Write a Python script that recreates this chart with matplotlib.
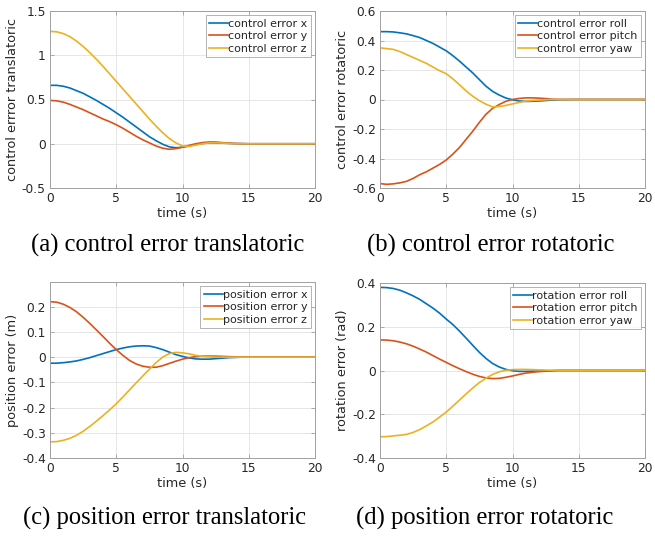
import numpy as np
import matplotlib
matplotlib.use("Agg")
import matplotlib.pyplot as plt

# ---------------- data ----------------
time = [0, 0.5, 1, 1.5, 2, 2.5, 3, 3.5, 4, 4.5, 5, 5.5, 6, 6.5, 7, 7.5, 8, 8.5, 9, 9.5,
        10, 10.5, 11, 11.5, 12, 12.5, 13, 13.5, 14, 14.5, 15, 20]

ctrl_x = [0.66, 0.66, 0.65, 0.63, 0.60, 0.57, 0.53, 0.49, 0.445, 0.40, 0.35, 0.30, 0.245, 0.19,
          0.135, 0.08, 0.035, -0.005, -0.035, -0.045, -0.04, -0.025, -0.01, 0.003, 0.01, 0.01,
          0.007, 0.004, 0.002, 0.001, 0.0, 0.0]
ctrl_y = [0.49, 0.485, 0.47, 0.445, 0.415, 0.385, 0.35, 0.315, 0.28, 0.25, 0.215, 0.175, 0.13,
          0.085, 0.045, 0.01, -0.025, -0.05, -0.063, -0.055, -0.038, -0.018, 0.0, 0.013, 0.02,
          0.02, 0.013, 0.007, 0.003, 0.001, 0.0, 0.0]
ctrl_z = [1.27, 1.265, 1.245, 1.21, 1.16, 1.10, 1.03, 0.955, 0.875, 0.79, 0.705, 0.62, 0.535,
          0.45, 0.365, 0.28, 0.20, 0.125, 0.06, 0.01, -0.025, -0.03, -0.015, 0.0, 0.01, 0.012,
          0.008, 0.004, 0.002, 0.001, 0.0, 0.0]

ctrl_roll = [0.46, 0.46, 0.458, 0.452, 0.445, 0.433, 0.42, 0.40, 0.38, 0.355, 0.33, 0.297, 0.26,
             0.22, 0.18, 0.135, 0.09, 0.055, 0.03, 0.01, -0.002, -0.01, -0.013, -0.012, -0.01,
             -0.007, -0.004, -0.002, -0.001, 0.0, 0.0, 0.0]
ctrl_pitch = [-0.57, -0.575, -0.572, -0.565, -0.555, -0.535, -0.51, -0.49, -0.465, -0.44, -0.41,
              -0.37, -0.325, -0.27, -0.215, -0.155, -0.10, -0.06, -0.034, -0.012, 0.0, 0.007,
              0.011, 0.011, 0.009, 0.006, 0.002, 0.001, 0.0, 0.0, 0.0, 0.0]
ctrl_yaw = [0.35, 0.345, 0.34, 0.325, 0.305, 0.285, 0.265, 0.245, 0.22, 0.195, 0.175, 0.14, 0.1,
            0.058, 0.022, -0.008, -0.032, -0.05, -0.048, -0.04, -0.03, -0.02, -0.011, -0.007,
            -0.004, -0.002, 0.0, 0.0, 0.0, 0.0, 0.0, 0.0]

pos_x = [-0.024, -0.024, -0.022, -0.019, -0.015, -0.009, -0.002, 0.006, 0.014, 0.022, 0.03,
         0.036, 0.041, 0.044, 0.045, 0.044, 0.038, 0.03, 0.02, 0.01, 0.003, -0.003, -0.007,
         -0.008, -0.008, -0.006, -0.004, -0.002, -0.001, 0.0, 0.0, 0.0]
pos_y = [0.22, 0.218, 0.21, 0.197, 0.18, 0.158, 0.134, 0.108, 0.082, 0.055, 0.03, 0.007, -0.013,
         -0.027, -0.036, -0.04, -0.04, -0.034, -0.025, -0.016, -0.008, -0.002, 0.002, 0.004,
         0.004, 0.004, 0.003, 0.002, 0.001, 0.0, 0.0, 0.0]
pos_z = [-0.336, -0.335, -0.33, -0.322, -0.31, -0.294, -0.275, -0.254, -0.232, -0.209, -0.185,
         -0.158, -0.13, -0.102, -0.075, -0.048, -0.022, 0.0, 0.014, 0.019, 0.017, 0.013, 0.007,
         0.003, 0.001, 0.0, 0.0, 0.0, 0.0, 0.0, 0.0, 0.0]

rot_roll = [0.38, 0.379, 0.375, 0.367, 0.355, 0.341, 0.325, 0.305, 0.285, 0.262, 0.235, 0.21,
            0.18, 0.148, 0.115, 0.083, 0.055, 0.032, 0.016, 0.005, -0.001, -0.004, -0.004,
            -0.003, -0.003, -0.002, -0.001, 0.0, 0.0, 0.0, 0.0, 0.0]
rot_pitch = [0.14, 0.139, 0.136, 0.13, 0.122, 0.111, 0.098, 0.084, 0.068, 0.052, 0.037, 0.022,
             0.008, -0.005, -0.017, -0.027, -0.034, -0.037, -0.036, -0.031, -0.025, -0.018,
             -0.012, -0.008, -0.005, -0.003, -0.001, 0.0, 0.0, 0.0, 0.0, 0.0]
rot_yaw = [-0.303, -0.302, -0.299, -0.296, -0.292, -0.283, -0.27, -0.253, -0.235, -0.213, -0.19,
           -0.163, -0.135, -0.107, -0.08, -0.055, -0.035, -0.018, -0.006, 0.001, 0.004, 0.005,
           0.005, 0.004, 0.003, 0.002, 0.001, 0.0, 0.0, 0.0, 0.0, 0.0]

xticks = [0, 5, 10, 15, 20]
colors = ["#0072BD", "#D95319", "#EDB120"]

panels = [
    dict(series=[ctrl_x, ctrl_y, ctrl_z],
         labels=["control error x", "control error y", "control error z"],
         ylabel="control errror translatoric", ylim=(-0.5, 1.5),
         yticks=[-0.5, 0, 0.5, 1, 1.5], yticklabels=["-0.5", "0", "0.5", "1", "1.5"],
         caption="(a) control error translatoric"),
    dict(series=[ctrl_roll, ctrl_pitch, ctrl_yaw],
         labels=["control error roll", "control error pitch", "control error yaw"],
         ylabel="control error rotatoric", ylim=(-0.6, 0.6),
         yticks=[-0.6, -0.4, -0.2, 0, 0.2, 0.4, 0.6],
         yticklabels=["-0.6", "-0.4", "-0.2", "0", "0.2", "0.4", "0.6"],
         caption="(b) control error rotatoric"),
    dict(series=[pos_x, pos_y, pos_z],
         labels=["position error x", "position error y", "position error z"],
         ylabel="position error (m)", ylim=(-0.4, 0.298),
         yticks=[-0.4, -0.3, -0.2, -0.1, 0, 0.1, 0.2],
         yticklabels=["-0.4", "-0.3", "-0.2", "-0.1", "0", "0.1", "0.2"],
         caption="(c) position error translatoric"),
    dict(series=[rot_roll, rot_pitch, rot_yaw],
         labels=["rotation error roll", "rotation error pitch", "rotation error yaw"],
         ylabel="rotation error (rad)", ylim=(-0.4, 0.4),
         yticks=[-0.4, -0.2, 0, 0.2, 0.4], yticklabels=["-0.4", "-0.2", "0", "0.2", "0.4"],
         caption="(d) position error rotatoric"),
]

W, H = 655, 538
fig = plt.figure(figsize=(W / 100, H / 100), dpi=100)
plt.rcParams["font.family"] = "DejaVu Sans"

axes_px = [(50, 11, 315, 188), (380, 11, 645, 188), (50, 282, 315, 458), (380, 283, 645, 458)]
caption_px = [(168, 245), (491, 245), (165, 518), (485, 518)]
txtc = "#262626"

for p, (l, t, r, b), (cx, cy) in zip(panels, axes_px, caption_px):
    ax = fig.add_axes([l / W, 1 - b / H, (r - l) / W, (b - t) / H])
    for s, lab, c in zip(p["series"], p["labels"], colors):
        ax.plot(time, s, color=c, lw=1.2, label=lab)
    ax.set_xlim(0, 20)
    ax.set_ylim(*p["ylim"])
    ax.set_xticks(xticks)
    ax.set_xticklabels([str(v) for v in xticks])
    ax.set_yticks(p["yticks"])
    ax.set_yticklabels(p["yticklabels"])
    ax.grid(True, color="#e2e2e2", lw=0.6)
    ax.set_axisbelow(True)
    for sp in ax.spines.values():
        sp.set_color("#a0a0a0")
        sp.set_linewidth(0.7)
    ax.tick_params(direction="in", length=3, width=0.6, color="#a0a0a0",
                   labelsize=8.8, labelcolor=txtc, pad=3, top=True, right=True)
    ax.set_xlabel("time (s)", fontsize=9.3, color=txtc, labelpad=1)
    ax.set_ylabel(p["ylabel"], fontsize=9.3, color=txtc, labelpad=2)
    leg = ax.legend(loc="upper right", fontsize=8, frameon=True, fancybox=False,
                    edgecolor="#a0a0a0", borderpad=0.3, labelspacing=0.22,
                    handlelength=1.7, handletextpad=0.0, borderaxespad=0.4)
    leg.get_frame().set_linewidth(0.7)
    for txt in leg.get_texts():
        txt.set_color(txtc)
    fig.text(cx / W, 1 - cy / H, p["caption"], ha="center", va="center",
             family="Liberation Serif", fontsize=17.7, color="black")

fig.savefig("out.png", dpi=100)
